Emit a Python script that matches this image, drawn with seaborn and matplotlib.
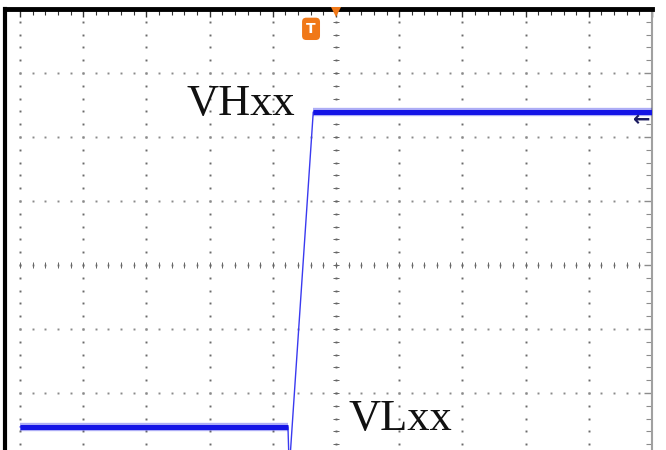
import numpy as np
import matplotlib
matplotlib.use("Agg")
import matplotlib.pyplot as plt
import seaborn as sns

# waveform, in screen divisions (time on x, volts on y)
t_trace = [-5.0, -0.76, -0.74, -0.36, 5.0]
v_trace = [-2.53, -2.53, -3.2, 2.39, 2.39]

# the two flat levels, drawn thick (noise band)
t_low = [-5.0, -0.76]
v_low = [-2.53, -2.53]
t_high = [-0.36, 5.0]
v_high = [2.39, 2.39]

label_high = "VHxx"
label_low = "VLxx"

N_XDIV = 5
N_YDIV = 4
BLUE = "#1414e6"
ORANGE = "#f07818"

sns.set_style("white")

fig = plt.figure(figsize=(6.66, 4.5), dpi=100)
# screen runs past the bottom of the picture
ax = fig.add_axes([5 / 666, (450 - 521) / 450, 647 / 666, 512 / 450])
ax.set_xlim(-N_XDIV - 15 / 63.2, N_XDIV)
ax.set_ylim(-N_YDIV, N_YDIV)

# dotted graticule
minor_y = np.arange(-N_YDIV, N_YDIV + 0.01, 0.2)
minor_x = np.arange(-N_XDIV, N_XDIV + 0.01, 0.2)
for gx in range(-N_XDIV, N_XDIV + 1):
    ax.plot(np.full_like(minor_y, gx), minor_y, ls="none", marker="s", ms=1.4,
            color="#6a6a6a", mew=0, zorder=1)
for gy in range(-N_YDIV, N_YDIV + 1):
    ax.plot(minor_x, np.full_like(minor_x, gy), ls="none", marker="s", ms=1.4,
            color="#8a8a8a", mew=0, zorder=1)

# centre cross with small tick marks
ax.plot(minor_x, np.zeros_like(minor_x), ls="none", marker="|", ms=4,
        color="#666666", mew=0.7, zorder=1)
ax.plot(np.zeros_like(minor_y), minor_y, ls="none", marker="_", ms=4,
        color="#666666", mew=0.7, zorder=1)

# trace
sns.lineplot(x=t_trace, y=v_trace, ax=ax, color="#3a3af0", lw=1.0,
             estimator=None, sort=False, zorder=3)
for tt, vv in [(t_low, v_low), (t_high, v_high)]:
    sns.lineplot(x=tt, y=vv, ax=ax, color=BLUE, lw=6, alpha=0.35,
                 estimator=None, sort=False, zorder=3, solid_capstyle="butt")
    sns.lineplot(x=tt, y=vv, ax=ax, color=BLUE, lw=3.6,
                 estimator=None, sort=False, zorder=4, solid_capstyle="butt")

# level labels
ax.text(-2.36, 2.34, label_high, fontsize=32, family="Liberation Serif",
        ha="left", va="baseline", color="#111111", zorder=5)
ax.text(0.19, -2.58, label_low, fontsize=32, family="Liberation Serif",
        ha="left", va="baseline", color="#111111", zorder=5)

# trigger markers
ax.text(-0.395, 3.69, "T", fontsize=10, fontweight="bold", color="white",
        ha="center", va="center", zorder=6,
        bbox=dict(boxstyle="round,pad=0.3", fc=ORANGE, ec="none"))
ax.plot([0], [N_YDIV - 0.05], marker="v", ms=7, color=ORANGE, mew=0,
        clip_on=False, zorder=7)
ax.text(N_XDIV - 0.02, 2.26, "\u2190", fontsize=15, fontweight="bold",
        color="#1a1a60", ha="right", va="center", zorder=6)

# frame: black top/left, grey right edge with ticks
ax.set_xticks(range(-N_XDIV, N_XDIV + 1))
ax.set_xticks(minor_x, minor=True)
ax.set_yticks(range(-N_YDIV, N_YDIV + 1))
ax.set_yticks(minor_y, minor=True)
ax.tick_params(axis="x", which="both", top=True, bottom=False, direction="in",
               labeltop=False, labelbottom=False, colors="#333333")
ax.tick_params(axis="x", which="major", length=6, width=1)
ax.tick_params(axis="x", which="minor", length=4, width=0.8)
ax.tick_params(axis="y", which="both", right=True, left=False, direction="in",
               labelleft=False, labelright=False, colors="#8c8c8c")
ax.tick_params(axis="y", which="major", length=6, width=1)
ax.tick_params(axis="y", which="minor", length=4, width=0.8)
ax.grid(False)
ax.spines["top"].set_color("black")
ax.spines["top"].set_linewidth(3.5)
ax.spines["left"].set_color("black")
ax.spines["left"].set_linewidth(3.0)
ax.spines["right"].set_color("#a0a0a0")
ax.spines["right"].set_linewidth(1.5)
ax.spines["bottom"].set_visible(False)

fig.savefig("out.png", dpi=100)
plt.close(fig)
